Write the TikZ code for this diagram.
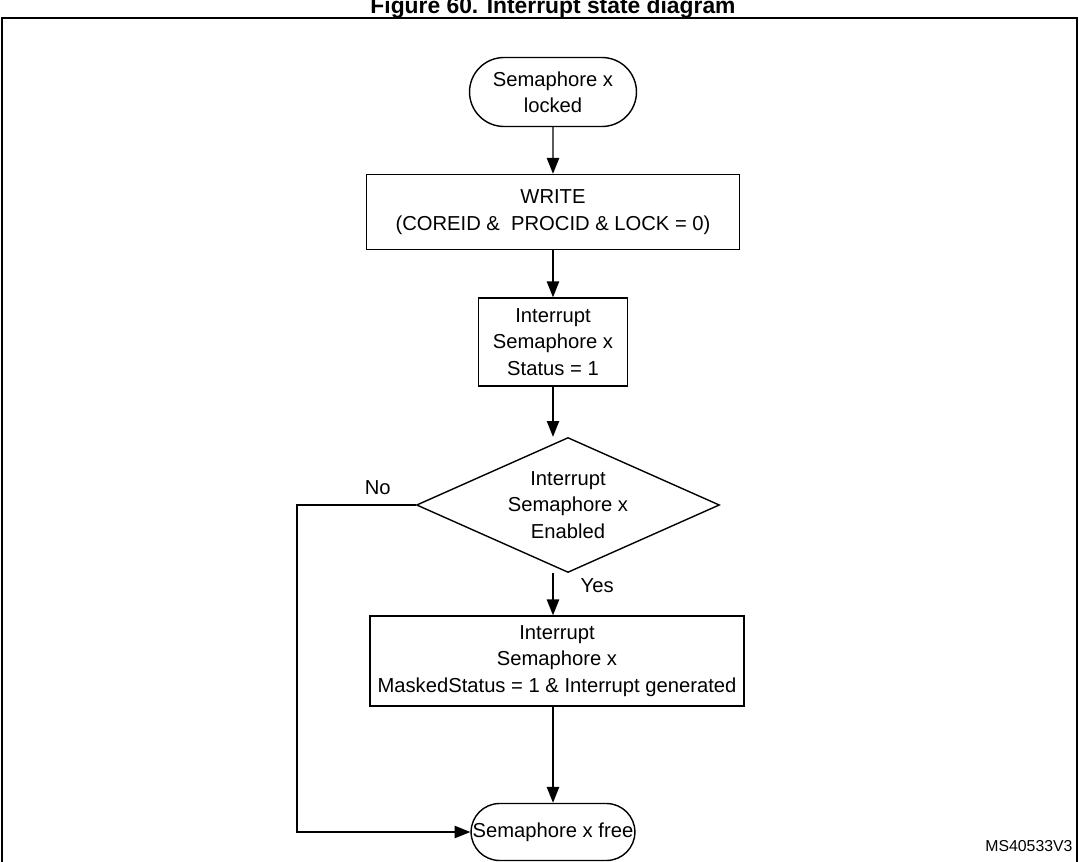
\documentclass[tikz,border=0pt]{standalone}
\usepackage{fontspec}
\setmainfont{Liberation Sans}
\usetikzlibrary{shapes.geometric,shapes.misc,arrows.meta,positioning}
\begin{document}
\begin{tikzpicture}[x=0.02cm,y=-0.02cm,>={Triangle[length=9pt,width=7pt]},line width=0.8pt,
    font=\fontsize{11.5}{15}\selectfont,
    term node/.style={draw,rounded rectangle,align=center,inner sep=0pt},
    box node/.style={draw,rectangle,align=center,inner sep=0pt},
    dec node/.style={draw,diamond,aspect=2.25,align=center,inner sep=0pt}]
  \useasboundingbox (0,0) rectangle (1079,862);
  % title and frame
  \node[font=\bfseries\fontsize{13}{15}\selectfont] (title) at (553,8) {Figure 60. Interrupt state diagram};
  \draw[line width=1.2pt] (2,880) -- (2,18) -- (1077,18) -- (1077,880);
  % states
  \node[term node,minimum width=3.34cm,minimum height=1.38cm] (locked) at (553,92) {Semaphore x\\locked};
  \node[box node,minimum width=7.46cm,minimum height=1.5cm] (write) at (553,212) {WRITE\\(COREID \&\ \ PROCID \& LOCK = 0)};
  \node[box node,minimum width=2.98cm,minimum height=1.76cm] (status) at (553,342) {Interrupt\\Semaphore x\\Status = 1};
  \node[dec node,minimum width=6.06cm,minimum height=2.7cm] (enabled) at (568,505) {Interrupt\\Semaphore x\\Enabled};
  \node[box node,minimum width=7.48cm,minimum height=1.8cm] (masked) at (557,661) {Interrupt\\Semaphore x\\MaskedStatus = 1 \& Interrupt generated};
  \node[term node,minimum width=3.18cm,minimum height=1.14cm] (free) at (553,832) {Semaphore x free};
  \coordinate (corner) at (297,505);
  % connectors
  \draw[->] (locked) -- (write);
  \draw[->] (write) -- (status);
  \draw[->] (status) -- (status|-enabled.north);
  \draw[->] (status|-enabled.south) -- node[right=12pt,pos=0.3] (yes) {Yes} (status|-masked.north);
  \draw[->] (status|-masked.south) -- (free.north);
  \draw[->] (enabled.west) -- node[above=2pt,pos=0.32] (no) {No} (corner) -- (corner|-free.west) -- (free.west);
  \node[font=\fontsize{9}{11}\selectfont,anchor=east] (ref) at (1079,846) {MS40533V3};
\end{tikzpicture}
\end{document}
